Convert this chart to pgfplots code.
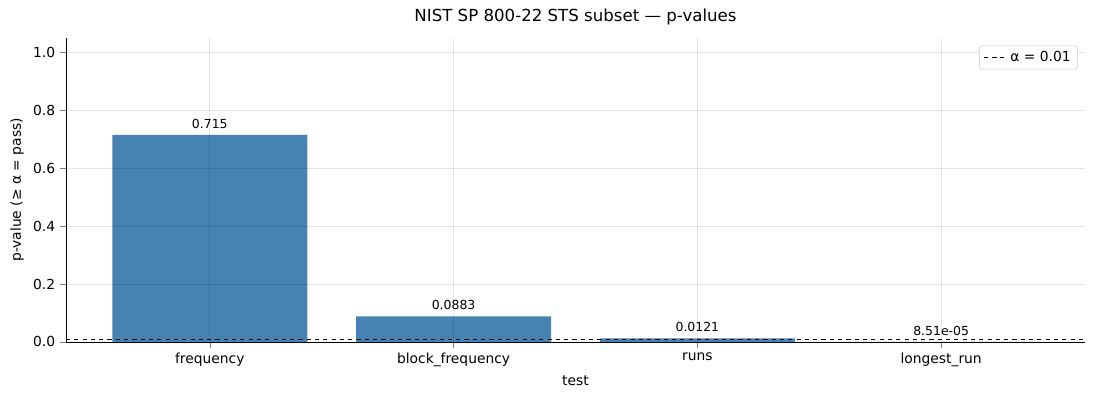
\documentclass[border=0pt]{standalone}
\usepackage{pgfplots}
\pgfplotsset{compat=1.18}
\usepackage{fontspec}
\setmainfont{DejaVu Sans}
\definecolor{steel}{RGB}{70,130,180}
\begin{document}
\begin{tikzpicture}
\useasboundingbox (-47.5bp,-41.8bp) rectangle (744.5bp,246.2bp);
\begin{axis}[
  at={(0,0)}, anchor=south west,
  width=733.7bp, height=218.9bp, scale only axis,
  xmin=-0.59, xmax=3.59, ymin=0, ymax=1.05,
  xtick={0,1,2,3},
  xticklabels={frequency,block\_frequency,runs,longest\_run},
  ytick={0,0.2,0.4,0.6,0.8,1.0},
  yticklabel style={/pgf/number format/.cd,fixed,fixed zerofill,precision=1},
  /pgf/number format/assume math mode=true,
  tick label style={font=\fontsize{10}{12}\selectfont},
  label style={font=\fontsize{10}{12}\selectfont},
  xlabel={test}, ylabel={p-value (≥ α = pass)},
  title={NIST SP 800-22 STS subset — p-values},
  title style={font=\fontsize{12}{14}\selectfont},
  axis x line*=bottom, axis y line*=left,
  grid=major, grid style={black,opacity=0.1,line width=0.6pt},
  axis on top,
  tick align=outside,
  legend style={at={(0.993,0.975)},anchor=north east,font=\fontsize{10}{12}\selectfont,draw=gray!40,rounded corners=2pt},
  legend cell align=left,
]
\addplot[ybar, bar width=0.8, fill=steel, draw=none, forget plot,
  nodes near coords, point meta=explicit symbolic,
  every node near coord/.append style={font=\fontsize{9}{10}\selectfont,black,yshift=1pt}]
  coordinates {(0,0.715)[0.715] (1,0.0883)[0.0883] (2,0.0121)[0.0121] (3,0.0000851)[8.51e-05]};
\addplot[black, dashed] coordinates {(-0.59,0.01) (3.59,0.01)};
\addlegendentry{α = 0.01}
\end{axis}
\end{tikzpicture}
\end{document}
